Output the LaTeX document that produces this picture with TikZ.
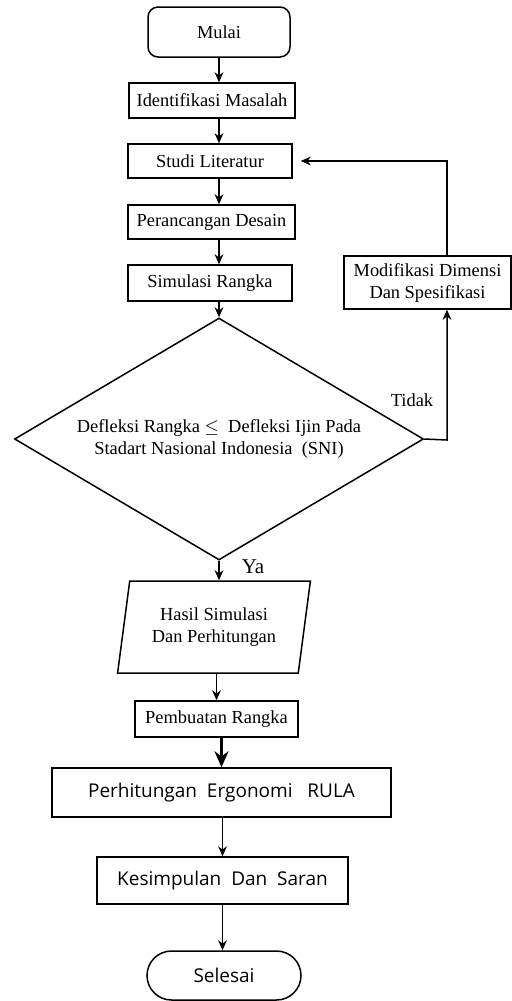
\documentclass[tikz,border=0pt]{standalone}
\usepackage{fontspec}
\setmainfont{Liberation Serif}
\newfontfamily\sansfont{Open Sans}
\usetikzlibrary{positioning,shapes,arrows,arrows.meta,calc}
\tikzset{
    block/.style={rectangle, draw, text centered, inner sep=0pt, font=\fontsize{9.2}{11}\selectfont},
    sblock/.style={rectangle, draw, text centered, inner sep=0pt, font=\sansfont\fontsize{9.5}{12}\selectfont},
    line/.style={draw, ->}
}

\begin{document}
\begin{tikzpicture}[x=0.5pt, y=-0.5pt, >={Stealth[length=5pt,width=4.4pt]}, line width=0.75pt]
        \useasboundingbox (0,0) rectangle (512,1001);
        \node[block, rounded corners=5pt, minimum width=71pt, minimum height=25pt] (mulai) at (219,32) {Mulai};
        \node[block, minimum width=83pt, minimum height=17.5pt] (ident) at (212,100.5) {Identifikasi Masalah};
        \node[block, minimum width=82pt, minimum height=17pt] (studi) at (210,161) {Studi Literatur};
        \node[block, minimum width=83.5pt, minimum height=17pt] (desain) at (211.5,222) {Perancangan Desain};
        \node[block, minimum width=82pt, minimum height=18pt] (simul) at (210,283) {Simulasi Rangka};
        \node[block, diamond, aspect=1.69, align=center, minimum width=204.5pt, minimum height=121pt] (cek) at (219,439) {Defleksi Rangka $\leq$\ \ Defleksi Ijin Pada\\Stadart Nasional Indonesia\ \ (SNI)};
        \node[block, align=center, minimum width=83.5pt, minimum height=26.5pt] (modif) at (427.5,282.5) {Modifikasi Dimensi\\Dan Spesifikasi};
        \node[block, trapezium, trapezium left angle=77, trapezium right angle=103, trapezium stretches=true, align=center, minimum width=97pt, minimum height=46pt] (hasil) at (214,627) {Hasil Simulasi\\Dan Perhitungan};
        \node[block, minimum width=81.5pt, minimum height=18pt] (buat) at (216.5,719) {Pembuatan Rangka};
        \node[sblock, minimum width=169.5pt, minimum height=24.5pt] (rula) at (221.5,792.5) {Perhitungan\ \ Ergonomi\ \ \ RULA};
        \node[sblock, minimum width=125.5pt, minimum height=23.5pt] (saran) at (222.5,880.5) {Kesimpulan\ \ Dan\ \ Saran};
        \node[sblock, rounded rectangle, minimum width=77pt, minimum height=24.5pt] (selesai) at (224,975.5) {Selesai};

        \node[font=\fontsize{9.2}{11}\selectfont] (tidak) at (412,400) {Tidak};
        \node[font=\fontsize{10.5}{12}\selectfont] (ya) at (253,567) {Ya};
        \coordinate (balik) at (447,440);

        \draw[->] (mulai.south) -- (mulai.south |- ident.north);
        \draw[->] (ident.south -| mulai.south) -- (mulai.south |- studi.north);
        \draw[->] (studi.south -| mulai.south) -- (mulai.south |- desain.north);
        \draw[->] (desain.south -| mulai.south) -- (mulai.south |- simul.north);
        \draw[->] (simul.south -| cek.north) -- (cek.north);
        \draw[->] (cek.south) -- (cek.south |- hasil.north);
        \draw[->] (hasil.south -| buat.north) -- (buat.north);
        \draw[-{Stealth[length=8pt,width=7pt]}, line width=1.5pt] (buat.south -| rula.north) -- (rula.north);
        \draw[->] (rula.south -| saran.north) -- (saran.north);
        \draw[->] (saran.south) -- (saran.south |- selesai.north);

        % jalur jika tidak memenuhi
        \draw[->] (cek.east) -- (balik) -- (balik |- modif.south);
        \draw[->, shorten >=4pt] (balik |- modif.north) -- (balik |- studi.east) -- (studi.east);
    \end{tikzpicture}
\end{document}
